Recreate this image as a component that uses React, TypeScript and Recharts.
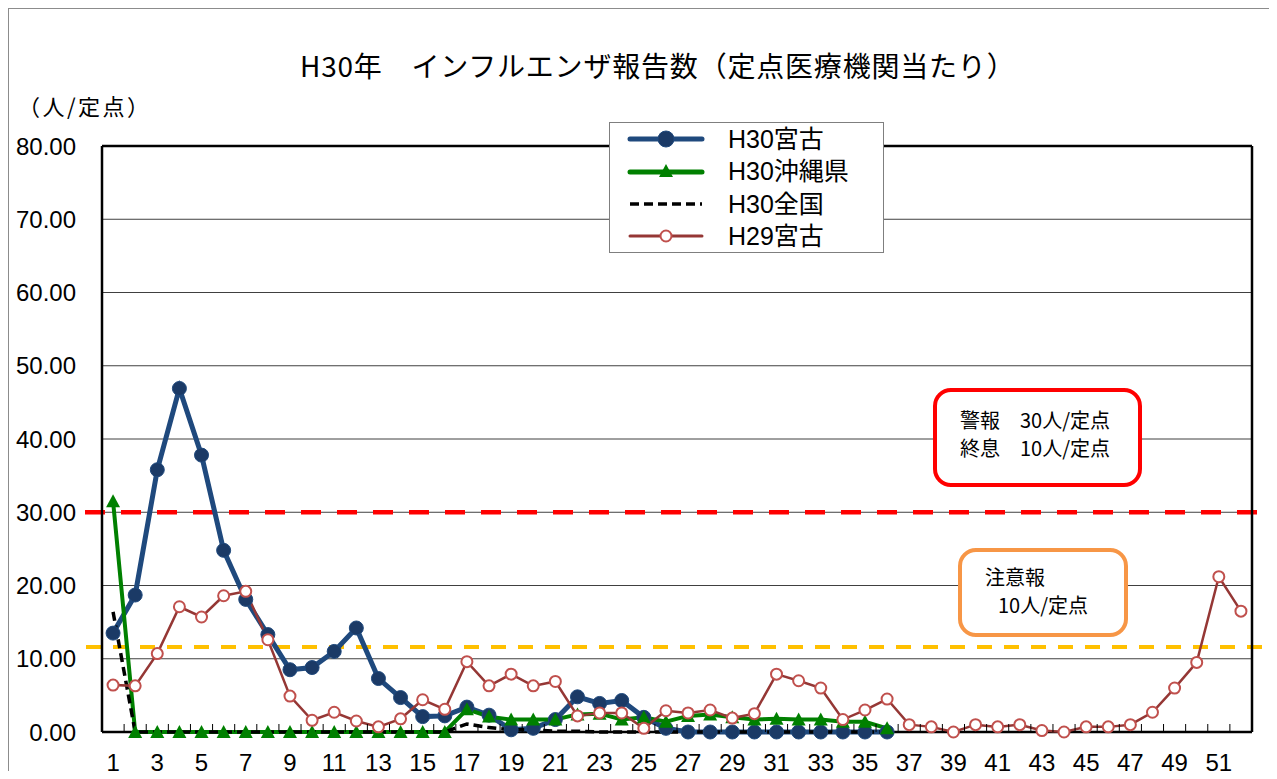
import React from 'react';
import {
  LineChart,
  Line,
  XAxis,
  YAxis,
  CartesianGrid,
  ReferenceLine,
  Legend,
} from 'recharts';

// weeks 1..52
const weeks = [
  '1', '2', '3', '4', '5', '6', '7', '8', '9', '10',
  '11', '12', '13', '14', '15', '16', '17', '18', '19', '20',
  '21', '22', '23', '24', '25', '26', '27', '28', '29', '30',
  '31', '32', '33', '34', '35', '36', '37', '38', '39', '40',
  '41', '42', '43', '44', '45', '46', '47', '48', '49', '50',
  '51', '52',
];

// H30 series stop at week 36
const miyakoH30 = [
  13.5, 18.7, 35.8, 46.9, 37.8, 24.8, 18.1, 13.3, 8.5, 8.8,
  11.0, 14.2, 7.3, 4.7, 2.1, 2.2, 3.4, 2.3, 0.3, 0.5,
  1.7, 4.8, 3.9, 4.3, 2.0, 0.5, 0, 0, 0, 0,
  0, 0, 0, 0, 0, 0,
];

const okinawaH30 = [
  31.5, 0, 0, 0, 0, 0, 0, 0, 0, 0,
  0, 0, 0, 0, 0, 0, 3.1, 2.1, 1.7, 1.7,
  1.7, 2.4, 2.5, 1.7, 2.0, 1.4, 2.2, 2.4, 2.0, 1.7,
  1.8, 1.7, 1.7, 1.4, 1.4, 0.5,
];

const nationalH30 = [
  16.4, 0, 0, 0, 0, 0, 0, 0, 0, 0,
  0, 0, 0, 0, 0, 0, 1.1, 0.6, 0.3, 0.3,
  0.1, 0.1, 0, 0, 0, 0, 0, 0, 0, 0,
  0, 0, 0, 0, 0, 0,
];

const miyakoH29 = [
  6.4, 6.3, 10.7, 17.1, 15.7, 18.6, 19.2, 12.6, 4.9, 1.6,
  2.7, 1.5, 0.7, 1.8, 4.4, 3.1, 9.6, 6.3, 7.9, 6.3,
  6.9, 2.2, 2.6, 2.6, 0.5, 2.9, 2.6, 3.0, 1.9, 2.5,
  7.9, 7.0, 6.0, 1.7, 3.0, 4.5, 1.0, 0.7, 0.0, 1.0,
  0.7, 1.0, 0.2, 0.0, 0.7, 0.7, 1.0, 2.7, 6.0, 9.5,
  21.2, 16.5,
];

const yTicks = [0, 10, 20, 30, 40, 50, 60, 70, 80];
const yMax = 80;
const alarmLevel = 30;
const advisoryLevel = 11.6;

const data = weeks.map((week, i) => ({
  week,
  miyakoH30: miyakoH30[i] ?? null,
  okinawaH30: okinawaH30[i] ?? null,
  nationalH30: nationalH30[i] ?? null,
  miyakoH29: miyakoH29[i] ?? null,
}));

const CHART_W = 1262;
const CHART_H = 769;
const MARGIN = { top: 137, right: 18, bottom: 0, left: 0 };
const Y_AXIS_W = 93;
const FRAME_AXIS_W = 1;
const X_AXIS_H = 46;
const PLOT_W = CHART_W - Y_AXIS_W - FRAME_AXIS_W - MARGIN.right;
const HALF_BAND = PLOT_W / weeks.length / 2;
const X_TICK_MARGIN = 22;

const LATIN = "'Liberation Sans', 'Noto Sans CJK JP', sans-serif";
const JP = "'Noto Sans CJK JP', 'Liberation Sans', sans-serif";

const BLUE = '#1F497D';
const GREEN = '#008000';
const BROWN = '#953735';
const BROWN_MARK = '#C0504D';
const FRAME = { stroke: '#000', strokeWidth: 2.5 };

// week label on odd weeks, small inward tick at each week boundary
const WeekTick = (props: any) => {
  const { x, y, payload, index } = props;
  const axisY = y - X_TICK_MARGIN;
  return (
    <g>
      {index < weeks.length - 1 && (
        <line
          x1={x + HALF_BAND}
          x2={x + HALF_BAND}
          y1={axisY}
          y2={axisY - 8}
          stroke="#000"
          strokeWidth={1}
        />
      )}
      {index % 2 === 0 && (
        <text
          x={x}
          y={y}
          dy="0.71em"
          textAnchor="middle"
          fontSize={24}
          fontFamily={LATIN}
          fill="#000"
        >
          {payload.value}
        </text>
      )}
    </g>
  );
};

const TriangleDot = (props: any) => {
  const { cx, cy, value, index } = props;
  if (cx == null || cy == null || value == null) return <g key={index} />;
  return (
    <path
      key={index}
      d={`M${cx},${cy - 7} L${cx + 7},${cy + 6} L${cx - 7},${cy + 6} Z`}
      fill={GREEN}
    />
  );
};

const extendedLine =
  (color: string, width: number, dash: string, extL: number, extR: number) =>
  (props: any) => (
    <line
      x1={props.x1 - extL}
      y1={props.y1}
      x2={props.x2 + extR}
      y2={props.y2}
      stroke={color}
      strokeWidth={width}
      strokeDasharray={dash}
    />
  );

const legendRows = [
  { name: 'H30宮古', kind: 'blue' },
  { name: 'H30沖縄県', kind: 'green' },
  { name: 'H30全国', kind: 'black' },
  { name: 'H29宮古', kind: 'brown' },
];

const LegendSample = ({ kind }: { kind: string }) => (
  <svg width={80} height={33} style={{ display: 'block' }}>
    {kind === 'blue' && (
      <>
        <line x1={4} x2={76} y1={16} y2={16} stroke={BLUE} strokeWidth={5} strokeLinecap="round" />
        <circle cx={40} cy={16} r={8} fill="#1B3A66" stroke={BLUE} />
      </>
    )}
    {kind === 'green' && (
      <>
        <line x1={4} x2={76} y1={17} y2={17} stroke={GREEN} strokeWidth={5} strokeLinecap="round" />
        <path d="M40,9 L47,22 L33,22 Z" fill={GREEN} />
      </>
    )}
    {kind === 'black' && (
      <line x1={4} x2={76} y1={16} y2={16} stroke="#000" strokeWidth={3.5} strokeDasharray="9 5" />
    )}
    {kind === 'brown' && (
      <>
        <line x1={4} x2={76} y1={16} y2={16} stroke={BROWN} strokeWidth={3} strokeLinecap="round" />
        <circle cx={40} cy={16} r={5.5} fill="#fff" stroke={BROWN_MARK} strokeWidth={2} />
      </>
    )}
  </svg>
);

const LegendBox = () => (
  <div
    style={{
      boxSizing: 'border-box',
      width: 275,
      height: 131,
      border: '1px solid #7f7f7f',
      background: '#fff',
      fontFamily: LATIN,
      fontSize: 25,
      color: '#000',
    }}
  >
    {legendRows.map((r) => (
      <div key={r.name} style={{ display: 'flex', alignItems: 'center', height: 32.5 }}>
        <div style={{ marginLeft: 16, width: 80 }}>
          <LegendSample kind={r.kind} />
        </div>
        <div style={{ marginLeft: 22, lineHeight: '33px' }}>{r.name}</div>
      </div>
    ))}
  </div>
);

const noteText: React.CSSProperties = {
  fontFamily: JP,
  fontSize: 20,
  lineHeight: '28px',
  color: '#000',
  whiteSpace: 'pre',
};

export default function App() {
  return (
    <div
      style={{
        position: 'relative',
        width: CHART_W,
        height: CHART_H,
        borderTop: '1px solid #8c8c8c',
        borderLeft: '1px solid #8c8c8c',
        borderRight: '1px solid #8c8c8c',
        marginBottom: -7,
        background: '#fff',
      }}
    >
      <div
        style={{
          position: 'absolute',
          left: 291,
          top: 42,
          fontFamily: JP,
          fontSize: 28,
          letterSpacing: 0.8,
          lineHeight: '28px',
          whiteSpace: 'pre',
          color: '#000',
        }}
      >
        H30年　インフルエンザ報告数（定点医療機関当たり）
      </div>
      <div
        style={{
          position: 'absolute',
          left: 9,
          top: 84,
          fontFamily: JP,
          fontSize: 22,
          letterSpacing: 2.5,
          lineHeight: '24px',
          color: '#000',
        }}
      >
        （人/定点）
      </div>

      <LineChart width={CHART_W} height={CHART_H} data={data} margin={MARGIN}>
        <CartesianGrid horizontal vertical={false} stroke="#404040" strokeWidth={1} />
        <XAxis
          dataKey="week"
          interval={0}
          height={X_AXIS_H}
          padding={{ left: HALF_BAND, right: HALF_BAND }}
          axisLine={false}
          tickLine={false}
          tickSize={0}
          tickMargin={X_TICK_MARGIN}
          tick={<WeekTick />}
        />
        <YAxis
          width={Y_AXIS_W}
          domain={[0, yMax]}
          ticks={yTicks}
          interval={0}
          axisLine={FRAME}
          tickLine={false}
          tickSize={0}
          tickMargin={26}
          tickFormatter={(v: number) => v.toFixed(2)}
          tick={{ fontSize: 24, fontFamily: LATIN, fill: '#000' }}
        />
        <YAxis
          yAxisId="frame"
          orientation="right"
          width={FRAME_AXIS_W}
          domain={[0, yMax]}
          axisLine={FRAME}
          tick={false}
          tickLine={false}
        />
        <ReferenceLine y={yMax} {...FRAME} />
        <ReferenceLine y={0} {...FRAME} />
        <ReferenceLine
          y={alarmLevel}
          shape={extendedLine('#FF0000', 4.5, '20 16', 17, 12)}
        />
        <ReferenceLine
          y={advisoryLevel}
          shape={extendedLine('#FFC000', 4, '15 12', 16, 30)}
        />
        <Legend
          layout="vertical"
          align="center"
          verticalAlign="middle"
          content={() => <LegendBox />}
          wrapperStyle={{ left: 600, top: 113, width: 275, height: 131 }}
        />
        <Line
          type="linear"
          dataKey="miyakoH30"
          name="H30宮古"
          stroke={BLUE}
          strokeWidth={5}
          dot={{ r: 7, fill: '#1B3A66', stroke: BLUE, strokeWidth: 1 }}
          activeDot={false}
          isAnimationActive={false}
        />
        <Line
          type="linear"
          dataKey="okinawaH30"
          name="H30沖縄県"
          stroke={GREEN}
          strokeWidth={4}
          dot={<TriangleDot />}
          activeDot={false}
          isAnimationActive={false}
        />
        <Line
          type="linear"
          dataKey="nationalH30"
          name="H30全国"
          stroke="#000"
          strokeWidth={3.5}
          strokeDasharray="9 5"
          dot={false}
          activeDot={false}
          isAnimationActive={false}
        />
        <Line
          type="linear"
          dataKey="miyakoH29"
          name="H29宮古"
          stroke={BROWN}
          strokeWidth={2.5}
          dot={{ r: 5.5, fill: '#fff', stroke: BROWN_MARK, strokeWidth: 2 }}
          activeDot={false}
          isAnimationActive={false}
        />
      </LineChart>

      <div
        style={{
          position: 'absolute',
          left: 924,
          top: 379,
          width: 209,
          height: 99,
          boxSizing: 'border-box',
          border: '4px solid #FF0000',
          borderRadius: 18,
          background: '#fff',
          paddingLeft: 23,
          paddingTop: 14,
        }}
      >
        <div style={noteText}>警報　30人/定点</div>
        <div style={noteText}>終息　10人/定点</div>
      </div>

      <div
        style={{
          position: 'absolute',
          left: 949,
          top: 539,
          width: 170,
          height: 89,
          boxSizing: 'border-box',
          border: '4px solid #F79646',
          borderRadius: 18,
          background: '#fff',
          paddingLeft: 23,
          paddingTop: 11,
        }}
      >
        <div style={noteText}>注意報</div>
        <div style={{ ...noteText, paddingLeft: 13 }}>10人/定点</div>
      </div>
    </div>
  );
}
